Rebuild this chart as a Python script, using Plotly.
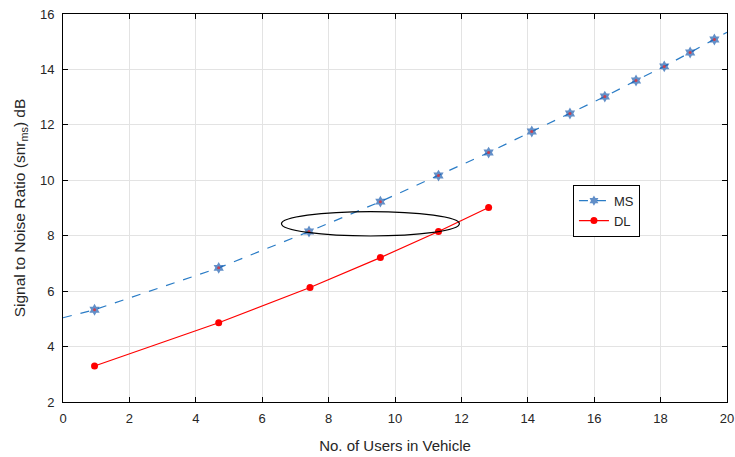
import plotly.graph_objects as go

# MS series (markers)
ms_x = [0.95, 4.69, 7.41, 9.56, 11.31, 12.82, 14.12, 15.27, 16.32, 17.26, 18.11, 18.89, 19.62]
ms_y = [5.33, 6.84, 8.15, 9.23, 10.17, 11.00, 11.76, 12.41, 13.02, 13.60, 14.11, 14.61, 15.08]
# MS fitted line end points
ms_start = (0.0, 5.04)
ms_end = (20.0, 15.34)

# DL series
dl_x = [0.95, 4.69, 7.44, 9.56, 11.31, 12.82]
dl_y = [3.30, 4.86, 6.13, 7.21, 8.15, 9.02]

# Ellipse annotation bounds (data units)
ell_x = [6.58, 11.94]
ell_y = [7.99, 8.87]

blue = "#2a7cc6"
mark_blue = "#1f5fb0"
red = "#ff0000"

line_x = [ms_start[0]] + ms_x + [ms_end[0]]
line_y = [ms_start[1]] + ms_y + [ms_end[1]]
sizes = [0] + [9] * len(ms_x) + [0]

fig = go.Figure()
fig.add_trace(go.Scatter(x=line_x, y=line_y, mode="lines+markers", name="MS",
                         line=dict(color=blue, width=1.2, dash="dash"),
                         marker=dict(symbol="hexagram", size=sizes, color=mark_blue,
                                     line=dict(width=0))))
fig.add_trace(go.Scatter(x=ms_x, y=ms_y, mode="markers", showlegend=False,
                         marker=dict(symbol="circle", size=3, color="#c8404f",
                                     line=dict(width=0)), hoverinfo="skip"))
fig.add_trace(go.Scatter(x=dl_x, y=dl_y, mode="lines+markers", name="DL",
                         line=dict(color=red, width=1.2),
                         marker=dict(symbol="circle", size=7, color=red)))

fig.add_shape(type="circle", xref="x", yref="y",
              x0=ell_x[0], x1=ell_x[1], y0=ell_y[0], y1=ell_y[1],
              line=dict(color="black", width=1.2))

axis_common = dict(showline=True, linecolor="black", linewidth=1, mirror="ticks",
                   ticks="inside", ticklen=5, tickcolor="black", automargin=False,
                   showgrid=True, gridcolor="#e3e3e3", gridwidth=1, zeroline=False,
                   tickfont=dict(size=13, color="#262626", family="Liberation Sans, Arial"))

fig.update_layout(
    width=735, height=457,
    margin=dict(l=63, r=8, t=14, b=55),
    paper_bgcolor="white", plot_bgcolor="white",
    font=dict(family="Liberation Sans, Arial", color="#262626"),
    xaxis=dict(range=[0, 20], dtick=2, ticklabelstandoff=4,
               title=dict(text="No. of Users in Vehicle", font=dict(size=15), standoff=15),
               **axis_common),
    yaxis=dict(range=[2, 16], dtick=2, ticklabelstandoff=5,
               title=dict(text="Signal to Noise Ratio (snr<sub>ms</sub>) dB", font=dict(size=15.5), standoff=10),
               **axis_common),
    legend=dict(x=0.768, y=0.56, xanchor="left", yanchor="top",
                bgcolor="white", bordercolor="black", borderwidth=1,
                font=dict(size=13), tracegroupgap=0),
)

fig.write_html("out.html")
